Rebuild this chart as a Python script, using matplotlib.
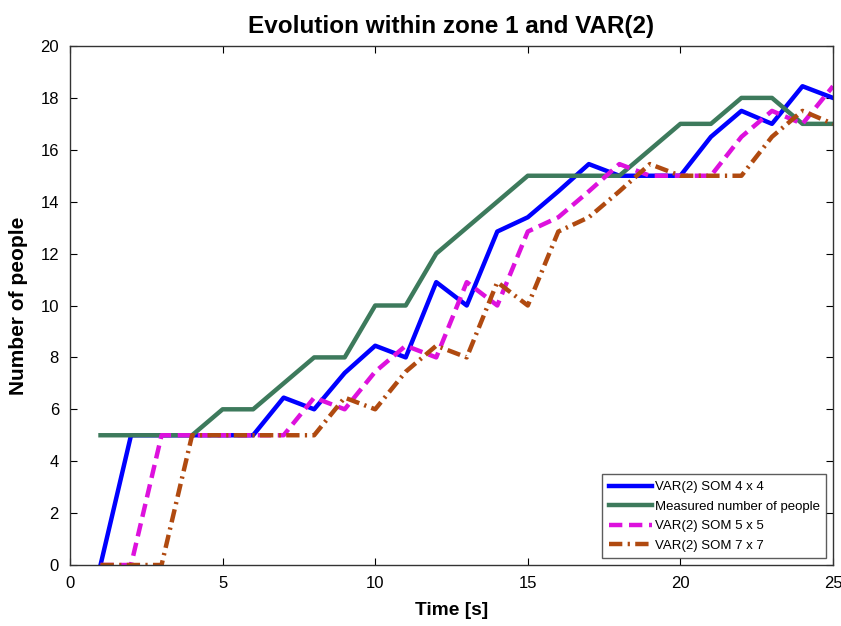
import matplotlib
matplotlib.use("Agg")
import matplotlib.pyplot as plt

plt.rcParams['font.family'] = ['Liberation Sans', 'DejaVu Sans']

# time axis (s)
time_s = list(range(1, 26))

# measured counts and the three VAR(2) SOM estimates
measured = [5, 5, 5, 5, 6, 6, 7, 8, 8, 10, 10, 12, 13, 14, 15, 15, 15, 15, 16, 17, 17, 18, 18, 17, 17]
som_4x4 = [0, 5, 5, 5, 5, 5, 6.45, 6, 7.4, 8.45, 8, 10.9, 10, 12.85, 13.4, 14.4, 15.45, 15, 15, 15,
           16.5, 17.5, 17, 18.45, 18]
som_5x5 = [0, 0, 5, 5, 5, 5, 5, 6.45, 6, 7.45, 8.45, 8, 10.9, 10, 12.85, 13.4, 14.4, 15.45, 15, 15,
           15, 16.5, 17.5, 17, 18.45]
som_7x7 = [0, 0, 0, 5, 5, 5, 5, 5, 6.45, 6, 7.45, 8.45, 8, 10.9, 10, 12.85, 13.4, 14.4, 15.45, 15,
           15, 15, 16.5, 17.5, 17]

fig = plt.figure(figsize=(8.41, 6.26), dpi=100)
ax = fig.add_axes([70 / 841, 1 - 565 / 626, 763 / 841, 519 / 626])

ax.plot(time_s, som_4x4, color='#0000ff', lw=3.2, label='VAR(2) SOM 4 x 4')
ax.plot(time_s, measured, color='#3d7a5c', lw=3.2, label='Measured number of people')
ax.plot(time_s, som_5x5, color='#dd11dd', lw=3.2, ls=(0, (3, 1.5)), label='VAR(2) SOM 5 x 5')
ax.plot(time_s, som_7x7, color='#b04a10', lw=3.2, ls=(0, (3, 1.2, 0.5, 1.2)), label='VAR(2) SOM 7 x 7')

ax.set_xlim(0, 25)
ax.set_ylim(0, 20)
ax.set_xticks(range(0, 26, 5))
ax.set_yticks(range(0, 21, 2))
ax.tick_params(direction='in', top=True, right=True, labelsize=12, length=5, pad=8)
for s in ax.spines.values():
    s.set_color('#333333')
    s.set_linewidth(1)

ax.set_title('Evolution within zone 1 and VAR(2)', fontsize=17.5, fontweight='bold', pad=9)
ax.set_xlabel('Time [s]', fontsize=13.8, fontweight='bold', labelpad=8)
ax.set_ylabel('Number of people', fontsize=15, fontweight='bold', labelpad=9)

leg = ax.legend(loc='lower right', fontsize=9.5, frameon=True, fancybox=False,
                edgecolor='#333333', handlelength=3.3, handletextpad=0.2,
                borderaxespad=0.5, labelspacing=0.55, borderpad=0.5)
leg.get_frame().set_linewidth(1)

fig.savefig('out.png', dpi=100)
